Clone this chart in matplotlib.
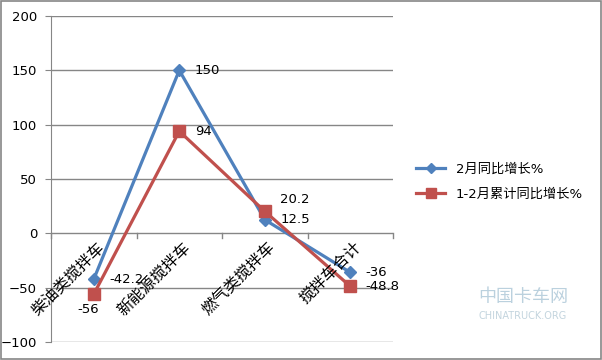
import matplotlib
matplotlib.use('Agg')
import matplotlib.pyplot as plt
from matplotlib.patches import Rectangle

plt.rcParams['font.family'] = ['DejaVu Sans', 'Noto Sans CJK SC']

categories = ['柴油类搅拌车', '新能源搅拌车', '燃气类搅拌车', '搅拌车合计']
feb_yoy = [-42.2, 150, 12.5, -36]
cum_yoy = [-56, 94, 20.2, -48.8]
series_names = ['2月同比增长%', '1-2月累计同比增长%']
yticks = [-100, -50, 0, 50, 100, 150, 200]

BLUE = '#4F81BD'
RED = '#C0504D'
GRID = '#868686'

fig = plt.figure(figsize=(6.02, 3.6), dpi=100)
ax = fig.add_axes([0.0847, 0.05, 0.653 - 0.0847, 0.9556 - 0.05])

x = list(range(len(categories)))
ax.plot(x, feb_yoy, color=BLUE, lw=2.3, marker='D', ms=6, label=series_names[0], zorder=3)
ax.plot(x, cum_yoy, color=RED, lw=2.3, marker='s', ms=8, label=series_names[1], zorder=3)

ax.set_xlim(-0.5, len(categories) - 0.5)
ax.set_ylim(-100, 200)
ax.set_yticks(yticks)
ax.tick_params(axis='y', length=4, color=GRID, labelsize=9.5, pad=6, direction='out')
ax.tick_params(axis='x', length=0)
ax.set_xticks([])
ax.grid(axis='y', color=GRID, lw=1)
ax.set_axisbelow(True)
for side in ['top', 'right', 'bottom']:
    ax.spines[side].set_visible(False)
ax.spines['left'].set_color(GRID)

# category axis at zero with tick marks between categories
for b in [-0.5, 0.5, 1.5, 2.5, 3.5]:
    ax.plot([b, b], [0, -4.5], color=GRID, lw=1, clip_on=False, zorder=2)

for i, name in enumerate(categories):
    ax.text(i + 0.03, -5, name, rotation=45, ha='right', va='top', fontsize=11.5,
            family=['Noto Sans CJK SC'], rotation_mode='anchor', zorder=4)

# data labels
for i, v in enumerate(feb_yoy):
    ax.text(i + 0.18, v, f'{v:g}', fontsize=9.5, va='center', ha='left')
red_offsets = [(-0.06, -14, 'center'), (0.18, 0, 'left'), (0.18, 11, 'left'), (0.18, 0, 'left')]
for i, v in enumerate(cum_yoy):
    dx, dy, ha = red_offsets[i]
    ax.text(i + dx, v + dy, f'{v:g}', fontsize=9.5, va='center', ha=ha)

fig.legend(loc='center left', bbox_to_anchor=(0.672, 0.495), frameon=False,
           handlelength=2.2, labelspacing=0.9, markerscale=0.85,
           prop={'family': ['DejaVu Sans', 'Noto Sans CJK SC'], 'size': 9.5})

# faint watermark
fig.text(0.795, 0.16, '中国卡车网', fontsize=13, color='#8fb3c9', alpha=0.6,
         family=['Noto Sans CJK SC'])
fig.text(0.795, 0.115, 'CHINATRUCK.ORG', fontsize=7, color='#9bb8c8', alpha=0.6)

fig.patches.append(Rectangle((0.001, 0.002), 0.997, 0.995, transform=fig.transFigure,
                             fill=False, edgecolor=GRID, lw=1.2))

fig.savefig('out.png', dpi=100)
